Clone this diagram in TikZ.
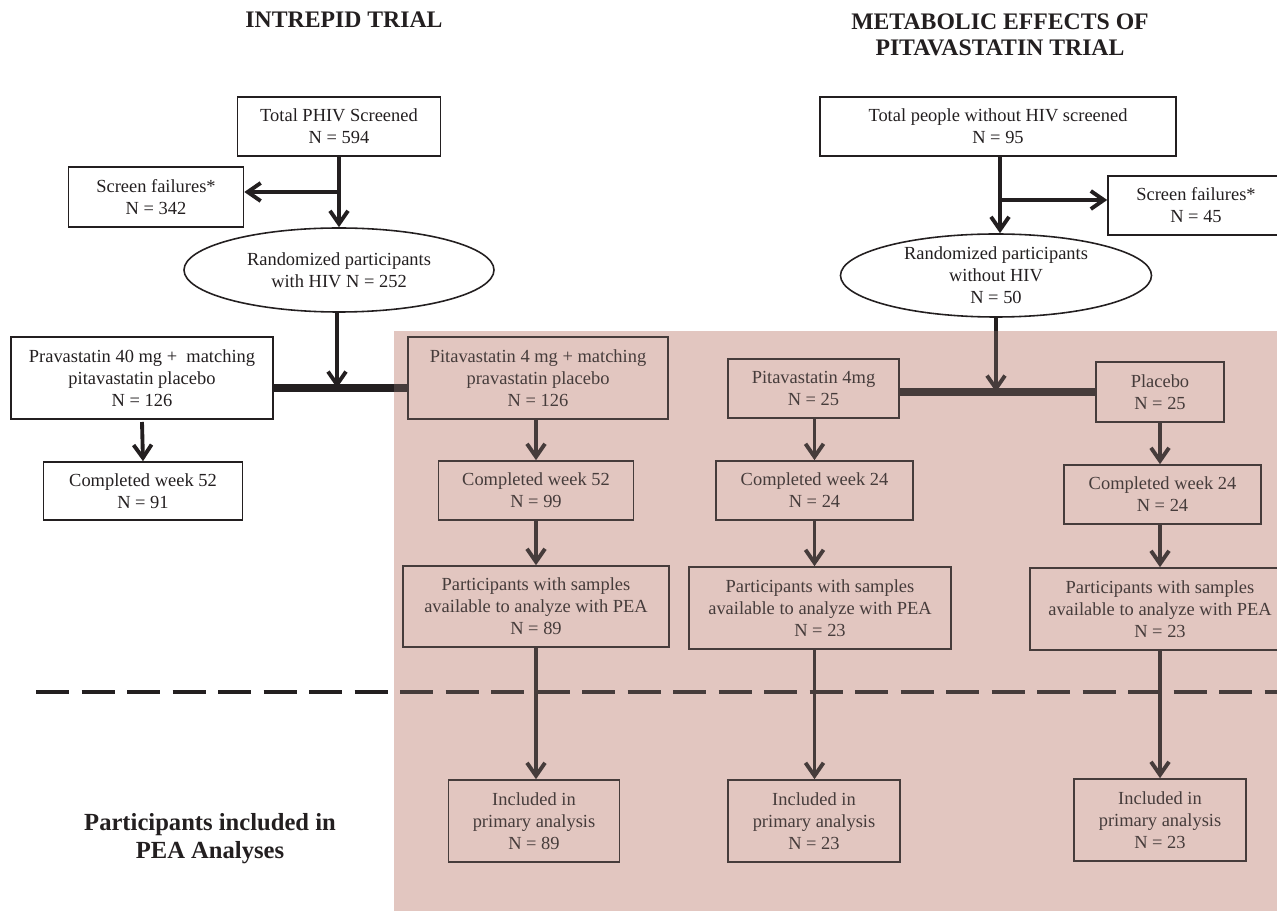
\documentclass[tikz,border=0pt]{standalone}
\usepackage{fontspec}
\setmainfont{Liberation Serif}
\usetikzlibrary{arrows.meta,shapes.geometric}
\definecolor{shadepink}{RGB}{226,198,192}
\definecolor{inkout}{RGB}{35,31,32}
\definecolor{inkin}{RGB}{70,60,59}

\begin{document}
\begin{tikzpicture}[x=0.2mm,y=-0.2mm,color=inkout,>={Straight Barb[length=2.6mm,width=3.6mm]},
  box/.style={draw,line width=0.9pt,align=center,inner sep=2pt,font=\fontsize{10.5}{12.5}\selectfont},
  oval/.style={box,ellipse,inner sep=0pt},
  arm/.style={->,line width=2.2pt},
  bar/.style={line width=4pt},
  head/.style={font=\fontsize{13.5}{15}\selectfont\bfseries,align=center}]
\useasboundingbox (0,0) rectangle (1277,911);
\clip (0,0) rectangle (1277,911);
\fill[shadepink] (394,331) rectangle (1277,911);
\coordinate (shtl) at (394,331);

\node[head] (intrepid) at (344,20) {INTREPID TRIAL};
\node[head] (metabolic) at (1000,35) {METABOLIC EFFECTS OF\\PITAVASTATIN TRIAL};
\node[head,font=\fontsize{14}{16}\selectfont\bfseries] (pealab) at (210,839) {Participants included in\\PEA Analyses};

% intrepid trial
\node[box,minimum width=40.6mm,minimum height=11.8mm] (tphiv) at (339,126.5) {Total PHIV Screened\\N = 594};
\node[box,minimum width=35mm,minimum height=12mm] (sfl) at (156,197) {Screen failures*\\N = 342};
\node[oval,minimum width=62mm,minimum height=16.8mm] (rndl) at (339,270) {Randomized participants\\with HIV N = 252};
\node[box,minimum width=52.4mm,minimum height=16.4mm] (prava) at (142,378) {Pravastatin 40 mg +~ matching\\pitavastatin placebo\\N = 126};
\node[box,minimum width=39.8mm,minimum height=11.6mm] (cw52l) at (143,491) {Completed week 52\\N = 91};
\coordinate (bl) at (339,192);
\coordinate (jl) at (337,388);
\draw[arm] (tphiv.south) -- (tphiv.south |- rndl.north);
\draw[arm] (bl) -- (bl -| sfl.east);
\draw[arm] (rndl.south -| jl) -- (jl);
\draw[bar] (prava.east |- jl) -- (shtl |- jl);
\draw[arm] (prava.south |- 0,422) -- (cw52l.north);

% metabolic effects trial
\node[box,minimum width=71.2mm,minimum height=11.8mm] (tpw) at (998,126.5) {Total people without HIV screened\\N = 95};
\node[box,minimum width=35.2mm,minimum height=11.8mm] (sfr) at (1196,205.5) {Screen failures*\\N = 45};
\node[oval,minimum width=62.2mm,minimum height=16.6mm] (rndr) at (996,275.5) {Randomized participants\\without HIV\\N = 50};
\coordinate (br) at (1000,200);
\coordinate (jr) at (996,392);
\draw[arm] (tpw.south -| br) -- (br |- rndr.north);
\draw[arm] (br) -- (br -| sfr.west);

\begin{scope}[color=inkin]
\node[box,minimum width=52mm,minimum height=16.4mm] (pita) at (538,378) {Pitavastatin 4 mg + matching\\pravastatin placebo\\N = 126};
\node[box,minimum width=39mm,minimum height=11.8mm] (cw52r) at (536,490.5) {Completed week 52\\N = 99};
\node[box,minimum width=53.2mm,minimum height=16.2mm] (pel) at (536,606.5) {Participants with samples\\available to analyze with PEA\\N = 89};
\node[box,minimum width=34.2mm,minimum height=16.4mm] (inl) at (534,821) {Included in\\primary analysis\\N = 89};
\node[box,minimum width=34.2mm,minimum height=11.8mm] (p4) at (813.5,388.5) {Pitavastatin 4mg\\N = 25};
\node[box,minimum width=25.6mm,minimum height=12mm] (plac) at (1160,392) {Placebo\\N = 25};
\node[box,minimum width=39.4mm,minimum height=11.8mm] (cw24m) at (814.5,490.5) {Completed week 24\\N = 24};
\node[box,minimum width=39.4mm,minimum height=11.8mm] (cw24r) at (1162.5,494.5) {Completed week 24\\N = 24};
\node[box,minimum width=52.4mm,minimum height=16.4mm] (pem) at (820,608) {Participants with samples\\available to analyze with PEA\\N = 23};
\node[box,minimum width=52mm,minimum height=16.4mm] (per) at (1160,609) {Participants with samples\\available to analyze with PEA\\N = 23};
\node[box,minimum width=34.4mm,minimum height=16.4mm] (inm) at (814,821) {Included in\\primary analysis\\N = 23};
\node[box,minimum width=34.4mm,minimum height=16.4mm] (inr) at (1160,820) {Included in\\primary analysis\\N = 23};
\draw[bar] (shtl |- jl) -- (pita.west |- jl);
\draw[bar] (p4.east |- jr) -- (plac.west |- jr);
\draw[arm] (rndr.south) -- (jr);
\draw[arm] (pita.south -| cw52r) -- (cw52r.north);
\draw[arm] (cw52r.south) -- (pel.north -| cw52r);
\draw[arm] (pel.south -| cw52r) -- (inl.north -| cw52r);
\draw[arm] (p4.south -| cw24m) -- (cw24m.north);
\draw[arm] (cw24m.south) -- (pem.north -| cw24m);
\draw[arm] (pem.south -| cw24m) -- (inm.north -| cw24m);
\draw[arm] (plac.south) -- (cw24r.north -| plac);
\draw[arm] (cw24r.south -| plac) -- (per.north);
\draw[arm] (per.south) -- (inr.north);
\draw[line width=2.3pt,dash pattern=on 6.6mm off 2.5mm] ([xshift=1.2mm]shtl |- 0,692) -- (1277,692);
\end{scope}
\draw[line width=2.2pt] (rndr.south) -- (rndr.south |- shtl);
\draw[line width=2.3pt,dash pattern=on 6.6mm off 2.5mm] (36,692) -- (shtl |- 0,692);
\end{tikzpicture}
\end{document}
